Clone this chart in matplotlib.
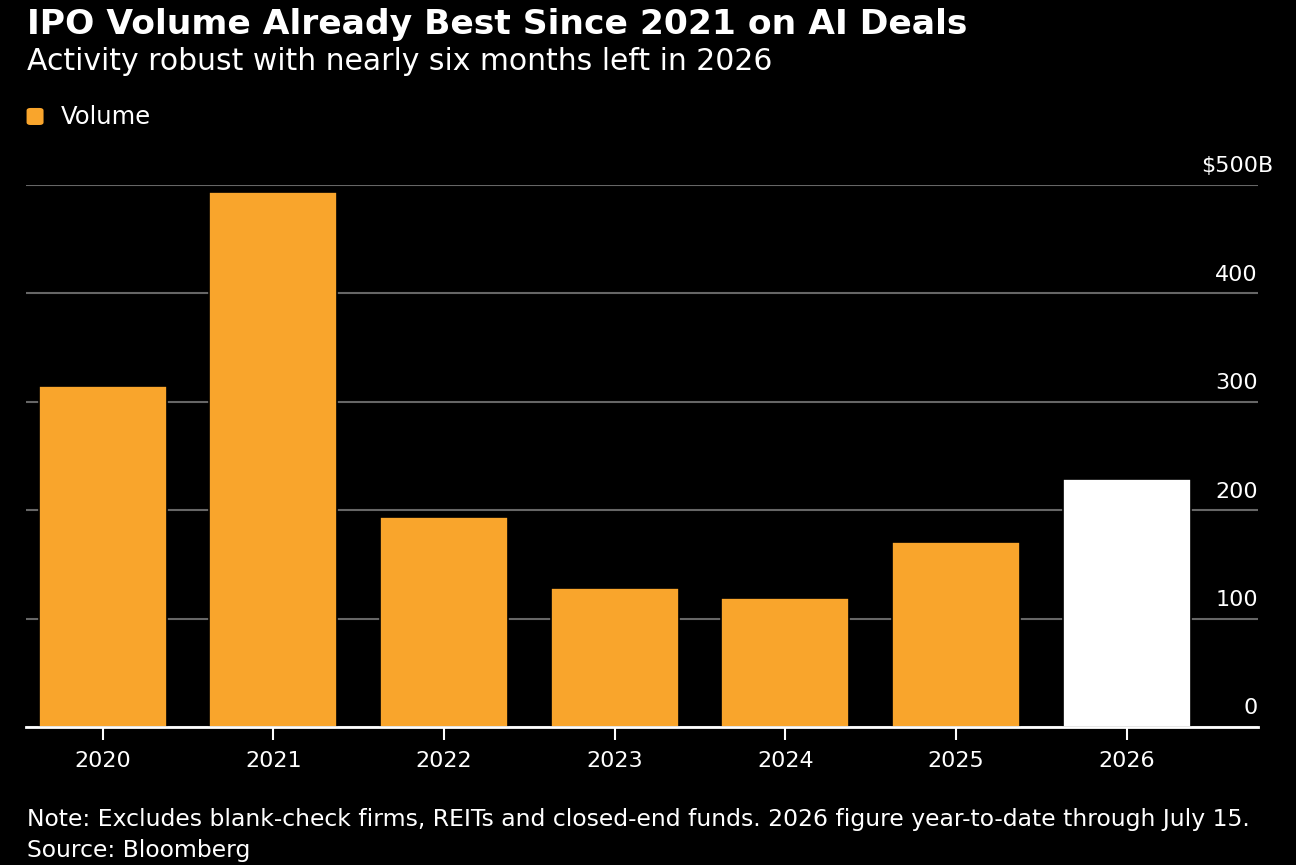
import numpy as np
import matplotlib.pyplot as plt
from matplotlib.patches import FancyBboxPatch

years = ["2020", "2021", "2022", "2023", "2024", "2025", "2026"]
volume = [315, 494, 194, 128, 119, 171, 229]
bar_colors = ["#f9a52c"] * 6 + ["#ffffff"]
y_ticks = [0, 100, 200, 300, 400, 500]
y_labels = ["0", "100", "200", "300", "400", "$500"]

plt.rcParams["font.family"] = ["DejaVu Sans"]

fig = plt.figure(figsize=(12.96, 8.65), dpi=100, facecolor="black")
ax = fig.add_axes([0.02, 0.1595, 0.9507, 0.6266], facecolor="black")

x = np.arange(len(years))
ax.bar(x, volume, width=0.75, color=bar_colors, edgecolor="black",
       linewidth=1.2, zorder=3)

ax.set_xlim(-0.45, 6.77)
ax.set_ylim(0, 500)
ax.set_yticks(y_ticks)
ax.set_yticklabels([])
ax.grid(axis="y", color="#666666", linewidth=1.5, zorder=1)
ax.tick_params(axis="y", length=0)
ytr = ax.get_yaxis_transform()
for v, lab in zip(y_ticks, y_labels):
    ax.text(1.0, v + 8, lab, transform=ytr, ha="right", va="bottom",
            color="white", fontsize=16, zorder=4)
# unit suffix hangs past the right edge
ax.text(1.0, y_ticks[-1] + 8, "B", transform=ytr, ha="left", va="bottom",
        color="white", fontsize=16, zorder=4, clip_on=False)

ax.set_xticks(x)
ax.set_xticklabels(years, color="white", fontsize=16)
ax.tick_params(axis="x", length=9, width=1.5, color="white", pad=8)

for s in ["top", "right", "left"]:
    ax.spines[s].set_visible(False)
ax.spines["bottom"].set_color("white")
ax.spines["bottom"].set_linewidth(2)
ax.spines["bottom"].set_zorder(5)

fig.text(0.021, 0.961, "IPO Volume Already Best Since 2021 on AI Deals",
         color="white", fontsize=24.8, fontweight="bold", va="baseline")
fig.text(0.021, 0.919, "Activity robust with nearly six months left in 2026",
         color="white", fontsize=21.5, va="baseline")

fig.patches.append(FancyBboxPatch((0.0205, 0.8555), 0.0131, 0.0197,
                                  boxstyle="round,pad=0,rounding_size=0.003",
                                  transform=fig.transFigure, facecolor="#f9a52c",
                                  edgecolor="none"))
fig.text(0.047, 0.857, "Volume", color="white", fontsize=17.5, va="baseline")

fig.text(0.021, 0.045,
         "Note: Excludes blank-check firms, REITs and closed-end funds. 2026 figure year-to-date through July 15.",
         color="white", fontsize=16.9, va="baseline")
fig.text(0.021, 0.0095, "Source: Bloomberg", color="white", fontsize=16.9,
         va="baseline")

fig.savefig("out.png", dpi=100, facecolor="black")
